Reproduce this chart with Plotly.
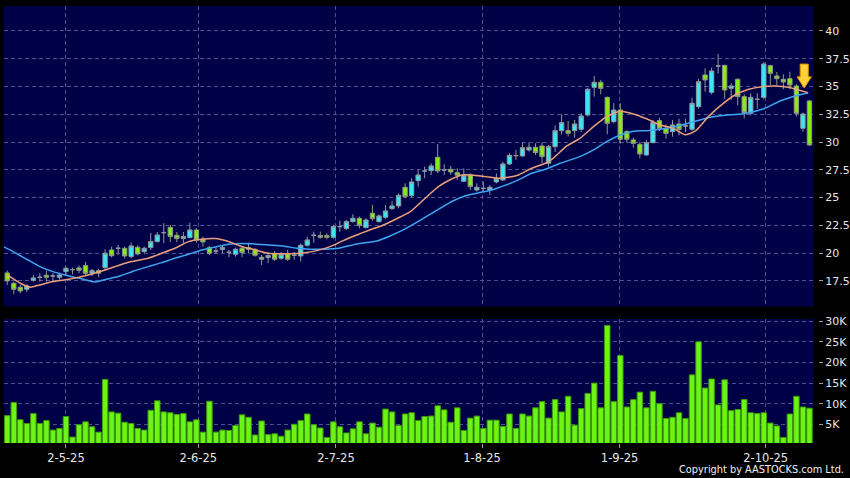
import plotly.graph_objects as go

# ---------------- data ----------------
open_ = [18.22, 17.29, 16.93, 16.75, 17.56, 17.83, 18.01, 17.95, 17.83, 18.34,
         18.52, 18.67, 18.88, 18.19, 18.43, 18.70, 20.29, 20.44, 20.44, 19.69,
         20.53, 20.14, 20.50, 21.04, 21.85, 22.33, 21.61, 21.31, 21.40, 22.09,
         21.25, 20.50, 20.20, 20.32, 20.08, 19.90, 20.44, 20.50, 20.35, 19.63,
         19.60, 19.99, 19.54, 19.96, 19.81, 19.75, 20.71, 21.61, 21.58, 21.58,
         21.43, 22.39, 22.21, 22.84, 23.14, 22.30, 23.59, 22.84, 23.23, 24.01,
         24.25, 25.93, 25.18, 26.53, 27.40, 27.43, 28.63, 27.49, 27.55, 27.25,
         26.47, 27.04, 25.69, 25.84, 25.69, 26.41, 26.59, 28.03, 28.78, 28.75,
         29.29, 29.53, 29.65, 28.09, 29.59, 31.03, 31.03, 31.03, 31.15, 32.44,
         34.93, 35.38, 34.03, 31.84, 32.89, 30.94, 30.19, 29.80, 28.84, 29.95,
         31.93, 31.24, 30.94, 31.63, 31.45, 31.15, 33.19, 36.04, 34.48, 36.85,
         36.91, 34.84, 35.65, 34.09, 32.59, 33.85, 34.03, 36.88, 35.95, 35.65,
         35.71, 35.05, 31.24, 33.70]
high = [18.43, 17.44, 17.14, 17.20, 18.04, 18.20, 18.43, 18.20, 18.25, 18.80,
        18.70, 18.90, 19.21, 18.60, 18.60, 20.35, 20.59, 20.74, 20.59, 20.95,
        20.70, 20.60, 21.82, 21.90, 22.70, 22.55, 21.90, 21.90, 22.75, 22.25,
        21.49, 20.65, 20.50, 20.74, 20.29, 20.50, 20.59, 20.95, 20.44, 19.84,
        20.10, 20.20, 20.10, 20.30, 20.10, 20.89, 21.49, 21.94, 21.94, 21.80,
        22.55, 22.93, 22.99, 23.50, 23.29, 23.14, 24.34, 23.50, 24.34, 24.70,
        25.39, 26.29, 26.74, 27.49, 27.79, 28.09, 29.83, 28.00, 27.85, 27.64,
        27.64, 27.19, 26.29, 26.44, 26.14, 27.19, 28.24, 29.00, 29.29, 29.95,
        29.95, 29.89, 29.99, 29.74, 31.50, 32.50, 31.90, 32.00, 32.60, 34.90,
        35.95, 35.60, 34.09, 33.50, 33.50, 31.10, 30.40, 30.04, 30.20, 32.00,
        32.20, 31.60, 31.99, 32.10, 32.10, 34.00, 35.70, 36.64, 36.70, 37.93,
        36.95, 35.30, 35.75, 34.30, 34.40, 34.40, 37.20, 36.95, 36.30, 36.10,
        36.34, 35.20, 32.65, 33.80]
low = [17.14, 16.30, 16.39, 16.50, 17.44, 17.44, 17.44, 17.50, 17.60, 18.04,
       18.10, 18.20, 18.04, 17.95, 17.83, 18.46, 19.62, 19.86, 19.54, 19.54,
       19.80, 19.99, 20.29, 20.95, 20.90, 21.00, 21.00, 20.90, 21.34, 20.95,
       20.59, 19.84, 19.93, 19.99, 19.63, 19.69, 19.63, 19.99, 19.69, 18.94,
       19.10, 19.30, 19.40, 19.30, 19.40, 19.24, 20.59, 20.95, 21.30, 21.25,
       21.30, 21.94, 22.09, 22.75, 22.24, 22.24, 22.93, 22.75, 23.11, 23.89,
       24.04, 24.94, 25.03, 25.99, 26.74, 27.04, 27.19, 27.04, 27.04, 26.59,
       26.44, 25.69, 25.54, 25.54, 25.24, 26.29, 26.53, 27.94, 28.39, 28.69,
       29.14, 28.84, 28.09, 27.79, 29.10, 30.70, 30.50, 30.40, 30.90, 32.30,
       34.09, 34.30, 30.70, 31.69, 29.85, 29.95, 29.50, 28.54, 28.75, 29.89,
       31.00, 30.30, 30.49, 30.60, 30.90, 31.00, 33.00, 34.54, 34.30, 36.19,
       33.90, 33.79, 33.30, 32.14, 32.40, 33.00, 33.85, 35.14, 35.14, 34.75,
       34.75, 32.30, 30.94, 29.65]
close = [17.50, 16.75, 16.60, 17.05, 17.77, 17.83, 17.83, 17.95, 18.04, 18.64,
         18.52, 18.46, 18.19, 18.43, 18.19, 20.00, 19.77, 20.44, 19.75, 20.65,
         19.93, 20.44, 21.04, 21.64, 21.85, 21.49, 21.31, 21.49, 22.09, 21.19,
         21.01, 19.99, 20.20, 20.50, 20.08, 20.35, 20.05, 20.35, 19.81, 19.45,
         19.78, 19.45, 19.90, 19.45, 19.81, 20.71, 21.19, 21.61, 21.43, 21.43,
         22.39, 22.39, 22.84, 23.14, 22.48, 22.99, 23.11, 23.35, 23.80, 24.25,
         25.21, 25.09, 26.41, 27.04, 27.40, 27.85, 27.40, 27.49, 27.31, 27.01,
         27.01, 25.99, 25.93, 25.84, 25.93, 26.71, 28.03, 28.81, 28.78, 29.50,
         29.53, 29.05, 28.69, 29.59, 31.03, 31.75, 30.79, 31.63, 32.35, 34.75,
         35.38, 34.84, 31.69, 32.89, 30.25, 30.25, 29.89, 28.93, 29.95, 31.75,
         31.24, 30.79, 31.54, 31.15, 31.45, 33.49, 35.44, 35.59, 36.40, 36.85,
         34.69, 35.05, 34.09, 32.65, 34.03, 33.85, 37.03, 36.19, 35.71, 35.41,
         35.14, 32.59, 32.53, 29.74]
volume_k = [7.1, 10.3, 6.1, 5.2, 7.6, 5.2, 5.9, 3.6, 4.0, 6.9,
            1.9, 4.9, 5.6, 4.4, 3.1, 15.9, 8.0, 7.7, 5.5, 5.2,
            4.0, 3.6, 8.4, 10.7, 8.0, 7.8, 7.4, 7.6, 5.6, 6.1,
            3.1, 10.6, 3.1, 3.6, 3.5, 4.7, 7.3, 6.7, 2.4, 5.8,
            2.5, 2.7, 2.1, 3.6, 5.0, 5.9, 7.5, 4.9, 4.1, 1.8,
            5.6, 4.4, 2.9, 3.9, 5.6, 2.7, 5.3, 4.3, 8.7, 8.0,
            4.7, 7.5, 7.8, 5.9, 6.9, 7.0, 9.5, 8.5, 5.5, 9.0,
            3.5, 6.5, 7.0, 4.0, 6.0, 6.0, 4.5, 7.5, 4.0, 7.5,
            7.0, 9.0, 10.5, 6.5, 11.0, 8.0, 11.8, 4.8, 8.8, 12.5,
            15.0, 9.0, 29.0, 10.5, 21.7, 9.2, 11.0, 12.8, 9.0, 13.0,
            10.0, 6.4, 6.7, 7.8, 6.4, 17.0, 25.0, 13.8, 16.0, 9.7,
            15.8, 8.3, 8.6, 11.0, 7.8, 7.6, 7.8, 5.3, 4.6, 1.8,
            7.5, 11.8, 9.2, 8.9]
day_idx = list(range(len(close)))

# moving averages as drawn (position in trading days, value)
ma_fast_idx = [0, 2, 3.5, 5, 7, 9, 11, 13, 15, 17, 19, 21.6, 23.7, 25.7, 27.8,
               29.8, 31.9, 33.9, 36, 38, 40, 43.4, 45.4, 47.5, 49.5, 51.5, 53.6,
               55.6, 57.7, 59.7, 61.8, 64, 66.1, 68.2, 69.7, 71.2, 73.3, 75.3,
               76.8, 78.4, 80.4, 82.5, 83.7, 85.8, 87.8, 89.9, 91.9, 94, 96, 98,
               100.1, 102.1, 103.9, 105.5, 107.5, 109.6, 111.6, 113.7, 115.7,
               117.7, 119.8, 121.3, 122.8]
ma_fast = [18.04, 17.29, 16.93, 17.14, 17.44, 17.60, 17.83, 18.13, 18.49, 18.88,
           19.24, 19.54, 19.99, 20.44, 21.04, 21.25, 21.31, 21.05, 20.59, 20.29,
           19.99, 19.95, 20.02, 20.23, 20.59, 21.13, 21.64, 22.09, 22.54, 23.10,
           23.74, 24.90, 25.99, 26.70, 27.04, 27.04, 26.89, 26.74, 26.83, 27.04,
           27.64, 28.09, 28.54, 29.65, 30.34, 31.39, 32.29, 32.77, 32.53, 32.10,
           31.54, 31.24, 30.66, 31.00, 32.29, 33.40, 34.24, 34.75, 34.99, 35.05,
           34.93, 34.69, 34.45]
ma_slow_idx = [-0.5, 0.9, 3, 5, 7, 9, 11.2, 13.5, 15.2, 17.3, 19.3, 21.6, 23.7,
               25.7, 27.8, 29.8, 31.9, 33.9, 36, 38, 40, 42.3, 44.4, 46.4, 50.5,
               53.6, 56.7, 58.7, 60.7, 63.3, 66.1, 68.4, 70.2, 72.2, 74.3, 76.3,
               78.4, 80.4, 82.5, 84.8, 87.8, 89.9, 91.9, 94, 96, 98, 100.1, 102.1,
               104.7, 107.5, 110.8, 112.9, 116, 118.5, 121.1, 122.8]
ma_slow = [20.56, 20.14, 19.45, 18.79, 18.34, 18.01, 17.71, 17.40, 17.65, 17.95,
           18.37, 18.79, 19.15, 19.54, 19.90, 20.29, 20.55, 20.80, 20.87, 20.83,
           20.74, 20.65, 20.44, 20.36, 20.42, 20.83, 21.10, 21.55, 22.09, 22.95,
           23.95, 24.72, 25.15, 25.42, 25.69, 26.10, 26.60, 27.19, 27.55, 28.09,
           28.69, 29.29, 30.04, 30.64, 30.97, 31.03, 31.15, 31.35, 31.75, 32.20,
           32.45, 32.55, 33.00, 33.70, 34.20, 34.45]

tick_pos = [9.0, 29.3, 50.4, 72.8, 93.9, 116.3]
tick_text = ["2-5-25", "2-6-25", "2-7-25", "1-8-25", "1-9-25", "2-10-25"]
price_ticks = [17.5, 20, 22.5, 25, 27.5, 30, 32.5, 35, 37.5, 40]
price_tick_text = ["17.5", "20", "22.5", "25", "27.5", "30", "32.5", "35", "37.5", "40"]
vol_ticks = [5, 10, 15, 20, 25, 30]
vol_tick_text = ["5K", "10K", "15K", "20K", "25K", "30K"]

# ---------------- styling ----------------
BG = "#000000"
PLOT_BG = "#000046"
GRID = "#50508c"
TXT = "#e6e6e6"
FONT = "DejaVu Sans"

fig = go.Figure()

fig.add_trace(go.Candlestick(
    x=day_idx, open=open_, high=high, low=low, close=close,
    increasing=dict(fillcolor="#38e6f4", line=dict(color="#8e9aa0", width=1)),
    decreasing=dict(fillcolor="#84ee10", line=dict(color="#8e9a80", width=1)),
    whiskerwidth=0, xaxis="x", yaxis="y", showlegend=False, hoverinfo="skip"))

fig.add_trace(go.Scatter(
    x=ma_slow_idx, y=ma_slow, mode="lines",
    line=dict(color="#3ea6f0", width=1.5, shape="spline", smoothing=0.6),
    xaxis="x", yaxis="y", showlegend=False, hoverinfo="skip"))
fig.add_trace(go.Scatter(
    x=ma_fast_idx, y=ma_fast, mode="lines",
    line=dict(color="#eaa07a", width=1.5, shape="spline", smoothing=0.6),
    xaxis="x", yaxis="y", showlegend=False, hoverinfo="skip"))

fig.add_trace(go.Bar(
    x=day_idx, y=volume_k, width=0.84,
    marker=dict(color="#6cf416", line=dict(color="#3c9a08", width=1)),
    xaxis="x2", yaxis="y2", showlegend=False, hoverinfo="skip"))

# down-arrow marker at the latest moving-average point
ax_c = day_idx[-1] - 0.8
tip = ma_fast[-1] + 0.42
arrow_path = (f"M {ax_c-0.62},{tip+2.15} L {ax_c+0.62},{tip+2.15} L {ax_c+0.62},{tip+1.0} "
              f"L {ax_c+1.1},{tip+1.0} L {ax_c},{tip} L {ax_c-1.1},{tip+1.0} "
              f"L {ax_c-0.62},{tip+1.0} Z")
fig.add_shape(type="path", path=arrow_path, xref="x", yref="y",
              fillcolor="#ffd23a", line=dict(color="#e09000", width=1))

x_dom = [0, 0.99509]
x_range = [-0.5, 123.7]
common_x = dict(range=x_range, domain=x_dom, tickmode="array", tickvals=tick_pos,
                showgrid=True, gridcolor=GRID, griddash="4px,3px", gridwidth=1,
                zeroline=False, showline=False, fixedrange=True, automargin=False)

fig.update_layout(
    width=850, height=478,
    margin=dict(l=4, r=32, t=6, b=35, autoexpand=False),
    paper_bgcolor=BG, plot_bgcolor=PLOT_BG,
    boxgap=0.05,
    font=dict(family=FONT, size=11, color=TXT),
    xaxis=dict(**common_x, anchor="y", ticktext=[""] * len(tick_pos),
               showticklabels=False, ticks="", rangeslider=dict(visible=False)),
    xaxis2=dict(**common_x, anchor="y2", ticktext=tick_text, ticks="outside",
                ticklen=4, tickcolor="#9a9a9a", tickfont=dict(size=11.5, color=TXT)),
    yaxis=dict(domain=[0.3124, 1], range=[15.2, 42.25], side="right",
               anchor="free", position=1.0, tickmode="array", tickvals=price_ticks,
               ticktext=price_tick_text, ticks="outside", ticklen=4,
               tickcolor="#9a9a9a", showgrid=True, gridcolor=GRID,
               griddash="4px,3px", zeroline=False, showline=False, fixedrange=True,
               automargin=False, tickfont=dict(size=11, color=TXT)),
    yaxis2=dict(domain=[0, 0.2838], range=[0.46, 30.56], side="right",
                anchor="free", position=1.0, tickmode="array", tickvals=vol_ticks,
                ticktext=vol_tick_text, ticks="outside", ticklen=4,
                tickcolor="#9a9a9a", showgrid=True, gridcolor=GRID,
                griddash="4px,3px", zeroline=False, showline=False, fixedrange=True,
                automargin=False, tickfont=dict(size=11, color=TXT)),
    annotations=[dict(text="Copyright by AASTOCKS.com Ltd.", xref="paper", yref="paper",
                      x=1.0344, y=-0.0616, xanchor="right", yanchor="middle",
                      showarrow=False, font=dict(family=FONT, size=9.8, color="#f0f0f0"))],
)

fig.write_html("out.html", config={"displayModeBar": False},
               post_script="document.body.style.margin='0';")
